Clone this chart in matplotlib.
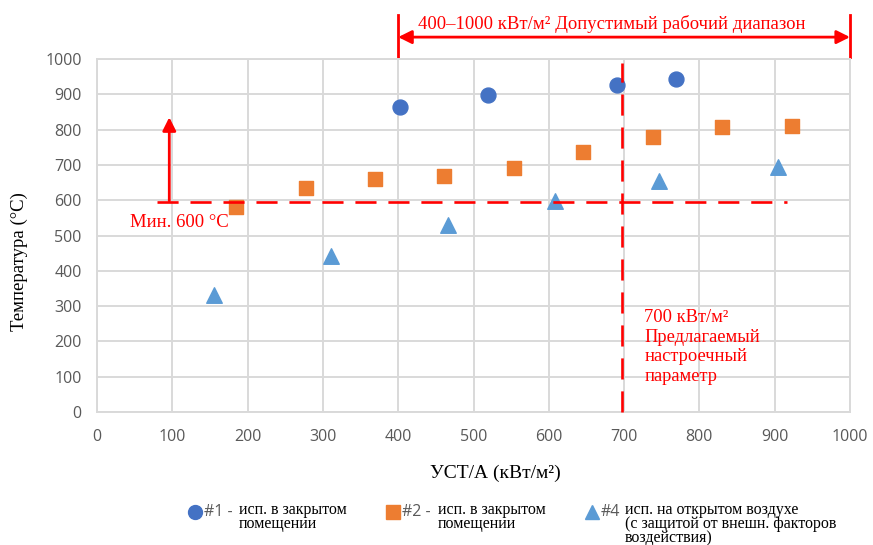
import matplotlib
matplotlib.use("Agg")
import matplotlib.pyplot as plt

# data
x_1 = [402, 519, 690, 769]
y_1 = [864, 898, 926, 943]
x_2 = [185, 278, 369, 461, 554, 645, 738, 830, 923]
y_2 = [581, 634, 660, 668, 691, 737, 779, 807, 810]
x_4 = [155, 311, 466, 608, 746, 904]
y_4 = [331, 442, 530, 598, 654, 694]

x_ticks = list(range(0, 1001, 100))
y_ticks = list(range(0, 1001, 100))

RED = "#FF0000"
SERIF = "Liberation Serif"
SANS = "Open Sans"
TICK_GREY = "#595959"

fig = plt.figure(figsize=(8.73, 5.45), dpi=100)
ax = fig.add_axes([97 / 873, 1 - 412 / 545, 753 / 873, 353 / 545])

ax.scatter(x_1, y_1, s=115, marker="o", color="#4472C4", zorder=3)
ax.scatter(x_2, y_2, s=105, marker="s", color="#ED7D31", zorder=3)
ax.scatter(x_4, y_4, s=125, marker="^", color="#5B9BD5", zorder=3)

ax.set_xlim(0, 1000)
ax.set_ylim(0, 1000)
ax.set_xticks(x_ticks)
ax.set_yticks(y_ticks)
ax.grid(True, color="#d9d9d9", linewidth=1.4, zorder=0)
ax.set_axisbelow(True)
for sp in ax.spines.values():
    sp.set_color("#d9d9d9")
    sp.set_linewidth(1.4)
ax.tick_params(length=0, pad=11, labelsize=11.5, labelcolor=TICK_GREY)
for lab in ax.get_xticklabels() + ax.get_yticklabels():
    lab.set_fontfamily(SANS)
ax.tick_params(axis="x", pad=12)

ax.set_xlabel("УСТ/А (кВт/м²)", family=SERIF, fontsize=14)
ax.set_ylabel("Температура (°C)", family=SERIF, fontsize=13.5)
ax.xaxis.set_label_coords(0.529, -0.150)
ax.yaxis.set_label_coords(-0.0916, 0.425)

# red guide lines
dash = (8, 4.5)
ax.plot([80, 916], [595, 595], color=RED, lw=1.9, dashes=dash, zorder=4)
ax.plot([697, 697], [0, 990], color=RED, lw=1.9, dashes=dash, zorder=4,
        clip_on=False)
ax.annotate("", xy=(96, 835), xytext=(96, 598),
            arrowprops=dict(arrowstyle="-|>", color=RED, lw=2,
                            mutation_scale=20, shrinkA=0, shrinkB=0))
ax.text(44, 538, "Мин. 600 °C", color=RED, family=SERIF, fontsize=13.5,
        va="center")
ax.text(727, 292, "700 кВт/м²\nПредлагаемый\nнастроечный\nпараметр",
        color=RED, family=SERIF, fontsize=13.3, linespacing=1.2, va="top")

# working range bracket above the plot
ax.annotate("", xy=(400, 1062), xytext=(1000, 1062), annotation_clip=False,
            arrowprops=dict(arrowstyle="<|-|>", color=RED, lw=2,
                            mutation_scale=20, shrinkA=0, shrinkB=0))
for xv in (400, 1000):
    ax.plot([xv, xv], [1005, 1125], color=RED, lw=2, clip_on=False)
ax.text(684, 1098, "400–1000 кВт/м² Допустимый рабочий диапазон",
        color=RED, family=SERIF, fontsize=13.5, ha="center", va="center")

# custom legend
leg = [
    (195, "o", "#4472C4", "#1 -", 239, "исп. в закрытом\nпомещении"),
    (393, "s", "#ED7D31", "#2 -", 438, "исп. в закрытом\nпомещении"),
    (592, "^", "#5B9BD5", "#4", 625,
     "исп. на открытом воздухе\n(с защитой от внешн. факторов\nвоздействия)"),
]
for mx, mk, col, tag, tx, desc in leg:
    fig.lines.append(plt.Line2D([mx / 873], [1 - 512 / 545], marker=mk,
                                color=col, markersize=10, linestyle="none",
                                transform=fig.transFigure))
    fig.text((mx + 9) / 873, 1 - 512 / 545, tag, family=SANS, fontsize=11.5,
             color=TICK_GREY, va="center")
    fig.text(tx / 873, 1 - 502 / 545, desc, family=SERIF, fontsize=11.5,
             va="top", linespacing=0.85)

fig.savefig("out.png", dpi=100)
